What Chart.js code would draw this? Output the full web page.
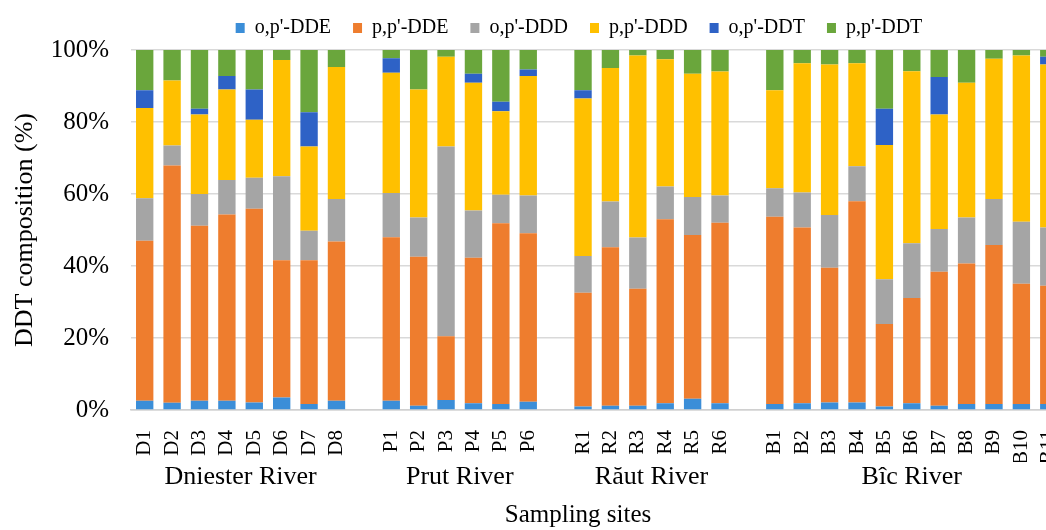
<!DOCTYPE html>
<html>
<head>
<meta charset="utf-8">
<script src="https://cdn.jsdelivr.net/npm/chart.js@4.4.1/dist/chart.umd.min.js"></script>
<style>
  html, body { margin: 0; padding: 0; background: #fff; overflow: hidden; }
  #wrap { width: 1086px; height: 530px; }
</style>
</head>
<body>
<div id="wrap"><canvas id="chart" width="1086" height="530"></canvas></div>
<script>
// sampling sites, '' = gap between rivers
const SITES = ['D1','D2','D3','D4','D5','D6','D7','D8','',
               'P1','P2','P3','P4','P5','P6','',
               'R1','R2','R3','R4','R5','R6','',
               'B1','B2','B3','B4','B5','B6','B7','B8','B9','B10','B11']
const RIVERS = ['Dniester River', 'Prut River', 'Răut River', 'Bîc River']
const RIVER_POS = [3.5, 11.5, 18.5, 28]   // middle of each group on the site axis
const Y_TICKS = [0, 20, 40, 60, 80, 100]
const SERIES = ["o,p'-DDE", "p,p'-DDE", "o,p'-DDD", "p,p'-DDD", "o,p'-DDT", "p,p'-DDT"]
const COLORS = ['#3b8ed8', '#ee7d2e', '#a5a5a5', '#ffc000', '#2e62c6', '#6aa63c']

// composition in % of total DDT
const opDDE = [2.6, 2.0, 2.6, 2.6, 2.1, 3.5, 1.7, 2.6, null,
               2.6, 1.2, 2.8, 1.9, 1.7, 2.3, null,
               1.0, 1.2, 1.2, 1.9, 3.1, 1.9, null,
               1.7, 1.9, 2.1, 2.1, 1.0, 1.9, 1.2, 1.7, 1.7, 1.7, 1.7]
const ppDDE = [44.4, 65.9, 48.6, 51.7, 53.8, 38.1, 39.9, 44.2, null,
               45.4, 41.4, 17.7, 40.4, 50.2, 46.8, null,
               31.6, 44.0, 32.5, 51.1, 45.5, 50.1, null,
               52.0, 48.8, 37.4, 55.9, 22.9, 29.2, 37.2, 39.0, 44.1, 33.4, 32.8]
const opDDD = [11.8, 5.6, 8.8, 9.6, 8.6, 23.3, 8.2, 11.8, null,
               12.3, 10.9, 52.7, 13.1, 7.9, 10.5, null,
               10.2, 12.7, 14.2, 9.1, 10.6, 7.6, null,
               7.9, 9.7, 14.7, 9.7, 12.4, 15.2, 11.9, 12.8, 12.8, 17.2, 16.2]
const ppDDD = [25.1, 18.0, 22.1, 25.1, 16.1, 32.3, 23.4, 36.7, null,
               33.4, 35.5, 24.9, 35.5, 23.2, 33.2, null,
               43.7, 37.1, 50.6, 35.3, 34.2, 34.4, null,
               27.2, 35.9, 41.8, 28.6, 37.3, 47.8, 31.8, 37.4, 39.0, 46.2, 45.3]
const opDDT = [4.9, 0, 1.6, 3.8, 8.4, 0, 9.5, 0, null,
               4.0, 0, 0, 2.5, 2.6, 1.8, null,
               2.3, 0, 0, 0, 0, 0, null,
               0, 0, 0, 0, 10.1, 0, 10.4, 0, 0, 0, 2.1]
const ppDDT = [11.2, 8.5, 16.3, 7.2, 11.0, 2.8, 17.3, 4.7, null,
               2.3, 11.0, 1.9, 6.6, 14.4, 5.4, null,
               11.2, 5.0, 1.5, 2.6, 6.6, 6.0, null,
               11.2, 3.7, 4.0, 3.7, 16.3, 5.9, 7.5, 9.1, 2.4, 1.5, 1.9]
const VALUES = [opDDE, ppDDE, opDDD, ppDDD, opDDT, ppDDT]

const FONT = 'Liberation Serif'
Chart.defaults.font.family = FONT
Chart.defaults.color = '#000'

// legend / bottom title sit off-centre in the original (plot runs past the right edge)
const LEGEND_CX = 579, LEGEND_DY = -4, LEGEND_H = 50
const TITLE_CX = 578

const nudge = {
    id: 'nudge',
    beforeLayout(chart) {
        const lg = chart.legend
        if (lg && !lg._patched) {
            const fit = lg.fit
            lg.fit = function () { fit.call(this); this.height = LEGEND_H }
            lg._patched = true
        }
    },
    afterLayout(chart) {
        const lg = chart.legend
        const dx = LEGEND_CX - (lg.left + lg.right) / 2
        lg.left += dx; lg.right += dx
        lg.top += LEGEND_DY; lg.bottom += LEGEND_DY
        const t = chart.titleBlock
        const tx = TITLE_CX - (t.left + t.right) / 2
        t.left += tx; t.right += tx
    }
}

new Chart(document.getElementById('chart'), {
    type: 'bar',
    data: {
        labels: SITES,
        datasets: SERIES.map((name, i) => ({
            label: name,
            data: VALUES[i],
            backgroundColor: COLORS[i],
            borderWidth: 0,
            categoryPercentage: 0.634,
            barPercentage: 1
        }))
    },
    options: {
        responsive: false,
        animation: false,
        devicePixelRatio: 1,
        layout: {padding: {left: 0, right: 2, top: 0, bottom: 0}},
        plugins: {
            legend: {
                position: 'top',
                labels: {font: {size: 20}, color: '#000', boxWidth: 9, boxHeight: 10, padding: 22}
            },
            title: {
                display: true,
                position: 'bottom',
                text: 'Sampling sites',
                font: {size: 25, weight: 'normal'},
                color: '#000',
                padding: {top: 4, bottom: 0}
            },
            tooltip: {enabled: false}
        },
        scales: {
            x: {
                stacked: true,
                grid: {display: false},
                border: {color: '#d0d0d0', width: 1.5},
                ticks: {autoSkip: false, minRotation: 90, maxRotation: 90, padding: 12, font: {size: 21}, color: '#000'},
                afterFit: s => { s.height = 52 }
            },
            x2: {
                type: 'linear',
                position: 'bottom',
                offset: false,
                bounds: 'data',
                min: -0.5,
                max: 33.5,
                grid: {display: false, drawTicks: false, offset: false},
                border: {display: false},
                afterBuildTicks: s => { s.ticks = RIVER_POS.map(v => ({value: v})) },
                ticks: {autoSkip: false, maxRotation: 0, padding: 0, font: {size: 26}, color: '#000',
                        callback: (v, i) => RIVERS[i]},
                afterFit: s => { s.height = 34 }
            },
            y: {
                stacked: true,
                min: 0,
                max: 100,
                afterBuildTicks: s => { s.ticks = Y_TICKS.map(v => ({value: v})) },
                grid: {color: '#d9d9d9', lineWidth: 1.5, drawTicks: false},
                border: {display: false},
                ticks: {padding: 22, font: {size: 25}, color: '#000', callback: v => v + '%'},
                title: {display: true, text: 'DDT composition (%)', font: {size: 26}, color: '#000',
                        padding: {top: 10, bottom: 0}},
                afterFit: s => { s.width = 131 }
            }
        }
    },
    plugins: [nudge]
})
</script>
</body>
</html>
